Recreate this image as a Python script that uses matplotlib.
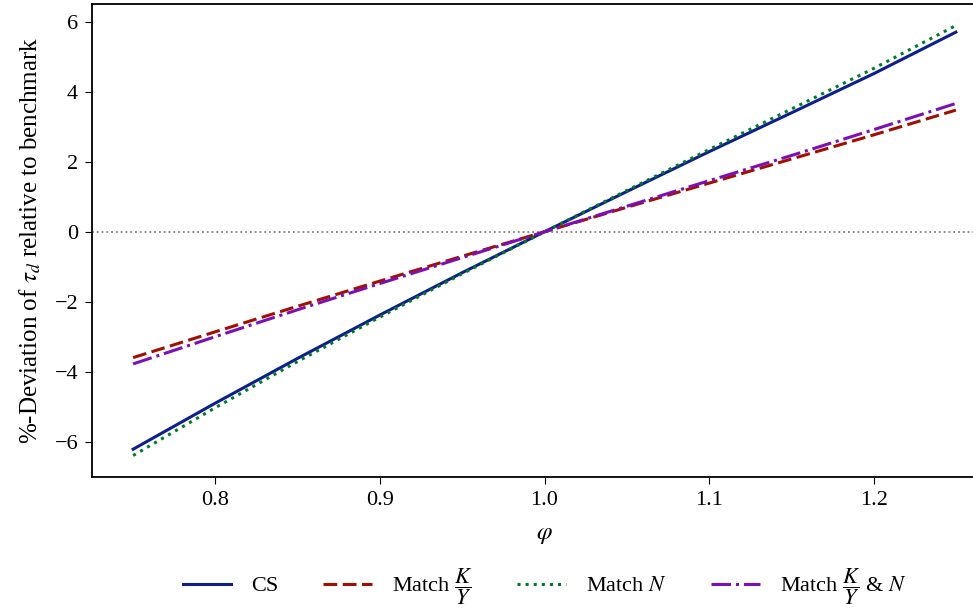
import numpy as np
import matplotlib
matplotlib.use("Agg")
import matplotlib.pyplot as plt

plt.rcParams['font.family'] = ['Liberation Serif', 'DejaVu Serif']
plt.rcParams['mathtext.fontset'] = 'stix'

# valores
phi = [0.75, 0.80, 0.85, 0.90, 0.95, 1.00, 1.05, 1.10, 1.15, 1.20, 1.25]
cs = [-6.22, -4.90, -3.62, -2.38, -1.17, 0.0, 1.15, 2.29, 3.40, 4.52, 5.71]
match_ky = [-3.60, -2.86, -2.13, -1.41, -0.70, 0.0, 0.70, 1.39, 2.08, 2.77, 3.48]
match_n = [-6.40, -5.03, -3.71, -2.44, -1.20, 0.0, 1.18, 2.35, 3.51, 4.67, 5.90]
match_ky_n = [-3.78, -3.00, -2.23, -1.48, -0.74, 0.0, 0.73, 1.46, 2.18, 2.92, 3.67]

fig = plt.figure(figsize=(9.73, 6.09), dpi=100)
W, H = 973, 609
ax = fig.add_axes([92 / W, 1 - 477 / H, (997 - 92) / W, (477 - 4) / H])

ax.axhline(0, color='gray', linestyle=':', linewidth=1.3, zorder=1)
ax.plot(phi, cs, '-', color='#0d1f8c', linewidth=2.2, label='CS')
ax.plot(phi, match_ky, '--', color='#a01000', linewidth=2.2, dashes=(4.5, 1.8),
        label=r'Match $\dfrac{K}{Y}$')
ax.plot(phi, match_n, ':', color='#007a25', linewidth=2.2, label=r'Match $N$')
ax.plot(phi, match_ky_n, '-.', color='#7d10b5', linewidth=2.2,
        label=r'Match $\dfrac{K}{Y}$ & $N$')

ax.set_xlabel(r'$\varphi$', fontsize=18, labelpad=10)
ax.set_ylabel(r'%-Deviation of $\tau_d$ relative to benchmark', fontsize=18, labelpad=8)
ax.set_xticks([0.8, 0.9, 1.0, 1.1, 1.2])
ax.set_yticks([-6, -4, -2, 0, 2, 4, 6])
ax.set_yticklabels(['\u22126', '\u22124', '\u22122', '0', '2', '4', '6'])
ax.tick_params(labelsize=16, length=5, pad=5)
ax.spines['right'].set_visible(False)
for s in ax.spines.values():
    s.set_linewidth(1.3)

ax.legend(loc='center', bbox_to_anchor=(0.5, -0.232), ncol=4, frameon=False,
          fontsize=16, handlelength=2.2, handletextpad=0.9, columnspacing=2.0)

fig.savefig('out.png', dpi=100)
